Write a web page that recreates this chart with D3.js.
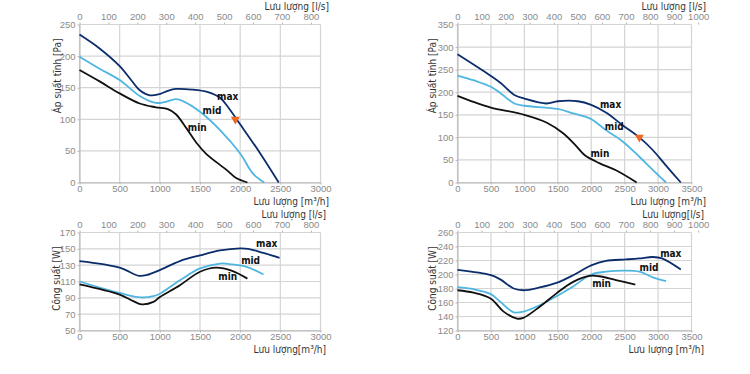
<!DOCTYPE html>
<html>
<head>
<meta charset="utf-8">
<script src="https://cdn.jsdelivr.net/npm/d3@7"></script>
<style>
  body { margin: 0; background: #fff; }
  svg { display: block; font-family: "Liberation Sans Narrow", "Arial Narrow", "DejaVu Sans Condensed", sans-serif; }
  .tick text { fill: #8a8a8a; font-size: 9.5px; }
  .tick line, .domain { stroke: #b5b5b5; }
  .grid line { stroke: #d4d4d4; stroke-width: 1.2; }
  .title { fill: #333; font-size: 10px; }
  .lbl { fill: #111; font-size: 10px; font-weight: bold; }
</style>
</head>
<body>
<svg id="chart" width="750" height="374"></svg>
<script>
// ---- data (flow m3/h, value) ----
var pressTicksA = [0, 50, 100, 150, 200, 250];
var pressTicksB = [0, 50, 100, 150, 200, 250, 300, 350];
var powerTicksA = [50, 70, 90, 110, 130, 150, 170];
var powerTicksB = [120, 140, 160, 180, 200, 220, 240, 260];
var flowTicksA = [0, 500, 1000, 1500, 2000, 2500, 3000];
var flowTicksB = [0, 500, 1000, 1500, 2000, 2500, 3000, 3500];
var lsTicksA = [0, 100, 200, 300, 400, 500, 600, 700, 800];
var lsTicksB = [0, 100, 200, 300, 400, 500, 600, 700, 800, 900, 1000];

var p1Max = [[0,234],[250,212],[500,184],[650,161],[750,146],[875,138],[1000,140],[1100,145],[1200,148],[1400,147],[1600,143],[1750,134],[1850,119],[2000,92],[2250,46],[2480,0]];
var p1Mid = [[0,199],[250,180],[500,162],[750,137],[950,126],[1050,127],[1200,132],[1300,128],[1500,112],[1750,83],[2000,46],[2160,14],[2300,0]];
var p1Min = [[0,178],[250,160],[500,141],[750,125],[950,119],[1100,116],[1200,108],[1330,86],[1460,62],[1580,45],[1830,20],[1950,7],[2090,0]];

var p2Max = [[0,284],[500,236],[650,220],[850,194],[1000,186],[1330,175],[1500,180],[1800,180],[2000,172],[2220,155],[2470,127],[2720,100],[2920,72],[3110,39],[3340,0]];
var p2Mid = [[0,237],[250,226],[500,212],[650,197],[850,175],[1000,170],[1500,163],[1730,153],[1980,142],[2220,116],[2470,91],[2720,57],[2920,28],[3120,0]];
var p2Min = [[0,192],[250,178],[500,166],[1000,150],[1330,133],[1580,109],[1780,80],[1900,61],[2120,43],[2370,27],[2680,0]];

var p3Max = [[0,135],[500,127],[740,117],[840,118],[1000,124],[1250,135],[1500,142],[1750,148],[2000,150.5],[2100,150],[2290,145],[2490,139]];
var p3Mid = [[0,110],[500,96],[760,90.5],[920,92],[1000,95],[1250,111.5],[1500,126],[1750,132],[1900,131],[2080,128],[2290,118.5]];
var p3Min = [[0,106.5],[500,94],[670,86],[775,82],[920,85],[1000,91],[1250,105.5],[1500,122],[1700,127],[1900,123],[2090,113.5]];

var p4Max = [[0,206.5],[500,199],[640,193],[840,180],[985,177.5],[1230,181.5],[1480,188],[1730,199],[2000,213],[2220,219.5],[2520,221.5],[2720,223],[2920,225],[3060,223],[3340,207]];
var p4Mid = [[0,182],[240,179],[500,172],[640,161],[840,146],[985,147],[1230,156],[1480,169],[1730,183],[2000,200],[2220,204],[2520,205.5],[2720,204],[2920,196],[3120,190.5]];
var p4Min = [[0,177.5],[240,174],[500,165.5],[690,147],[890,137],[985,138],[1230,154],[1480,173],[1730,189.5],[1980,198],[2120,197.5],[2370,192],[2660,185.5]];

var labels1 = [["max",1845,135],["mid",1650,113],["min",1465,87]];
var labels2 = [["max",2290,172],["mid",2345,124],["min",2130,63]];
var labels3 = [["max",2330,156],["mid",2130,135],["min",1845,115]];
var labels4 = [["max",3190,229],["mid",2865,209],["min",2155,186]];

var marker1 = [1940, 100];
var marker2 = [2720, 100];

var colors = { max: "#0b2d6b", mid: "#4fb6e2", min: "#111111" };

var svg = d3.select("#chart");
var fmt = d3.format("d");

function panel(o) {
  var g = svg.append("g");
  var x = d3.scaleLinear().domain([0, o.flowMax]).range([o.x0, o.x1]);
  var xs = d3.scaleLinear().domain([0, o.flowMax / 3.6]).range([o.x0, o.x1]);
  var y = d3.scaleLinear().domain(o.yDom).range([o.y1, o.y0]);

  var grid = g.append("g").attr("class", "grid");
  grid.selectAll(".v").data(o.flowTicks).enter().append("line")
    .attr("x1", d => x(d)).attr("x2", d => x(d))
    .attr("y1", o.y0).attr("y2", o.y1);
  grid.selectAll(".h").data(o.yTicks).enter().append("line")
    .attr("x1", o.x0).attr("x2", o.x1)
    .attr("y1", d => y(d)).attr("y2", d => y(d));

  g.append("g").attr("transform", "translate(0," + o.y1 + ")")
    .call(d3.axisBottom(x).tickValues(o.flowTicks).tickFormat(fmt).tickSize(2).tickPadding(1).tickSizeOuter(0));
  g.append("g").attr("transform", "translate(0," + o.y0 + ")")
    .call(d3.axisTop(xs).tickValues(o.lsTicks).tickFormat(fmt).tickSize(2).tickPadding(3).tickSizeOuter(0))
    .call(a => a.select(".domain").remove());
  g.append("g").attr("transform", "translate(" + o.x0 + ",0)")
    .call(d3.axisLeft(y).tickValues(o.yTicks).tickFormat(fmt).tickSize(2).tickPadding(2).tickSizeOuter(0));

  var line = d3.line().x(d => x(d[0])).y(d => y(d[1])).curve(d3.curveCatmullRom.alpha(0.5));
  [["max", o.max], ["mid", o.mid], ["min", o.min]].forEach(function (s) {
    g.append("path").attr("d", line(s[1])).attr("fill", "none")
      .attr("stroke", colors[s[0]]).attr("stroke-width", 1.8);
  });

  g.selectAll(".lbl").data(o.labels).enter().append("text").attr("class", "lbl")
    .attr("x", d => x(d[1])).attr("y", d => y(d[2]))
    .attr("text-anchor", "middle").attr("dominant-baseline", "middle")
    .text(d => d[0]);

  if (o.marker) {
    g.append("path")
      .attr("d", d3.symbol().type(d3.symbolTriangle).size(34))
      .attr("transform", "translate(" + x(o.marker[0]) + "," + y(o.marker[1]) + ") rotate(180)")
      .attr("fill", "#f0651f");
  }

  g.append("text").attr("class", "title").attr("text-anchor", "end")
    .attr("x", o.titleRight).attr("y", o.y0 - 15).text(o.topTitle);
  g.append("text").attr("class", "title").attr("text-anchor", "end")
    .attr("x", o.titleRight).attr("y", o.y1 + 22).text(o.bottomTitle);
  g.append("text").attr("class", "title").attr("text-anchor", "end")
    .attr("transform", "translate(" + o.yTitleX + "," + (o.y0 + 14) + ") rotate(-90)")
    .text(o.yTitle);
}

panel({ x0: 79.5, x1: 320.5, y0: 24.5, y1: 182.5, flowMax: 3000, flowTicks: flowTicksA, lsTicks: lsTicksA,
  yDom: [0, 250], yTicks: pressTicksA, max: p1Max, mid: p1Mid, min: p1Min, labels: labels1, marker: marker1,
  topTitle: "Lưu lượng [l/s]", bottomTitle: "Lưu lượng [m³/h]", yTitle: "Áp suất tĩnh [Pa]", titleRight: 329, yTitleX: 61 });

panel({ x0: 457.5, x1: 691.5, y0: 24.5, y1: 182.5, flowMax: 3500, flowTicks: flowTicksB, lsTicks: lsTicksB,
  yDom: [0, 350], yTicks: pressTicksB, max: p2Max, mid: p2Mid, min: p2Min, labels: labels2, marker: marker2,
  topTitle: "Lưu lượng [l/s]", bottomTitle: "Lưu lượng [m³/h]", yTitle: "Áp suất tĩnh [Pa]", titleRight: 706, yTitleX: 436 });

panel({ x0: 79.5, x1: 320.5, y0: 232.5, y1: 330.5, flowMax: 3000, flowTicks: flowTicksA, lsTicks: lsTicksA,
  yDom: [50, 170], yTicks: powerTicksA, max: p3Max, mid: p3Mid, min: p3Min, labels: labels3,
  topTitle: "Lưu lượng [l/s]", bottomTitle: "Lưu lượng[m³/h]", yTitle: "Công suất [W]", titleRight: 326, yTitleX: 60 });

panel({ x0: 457.5, x1: 691.5, y0: 232.5, y1: 330.5, flowMax: 3500, flowTicks: flowTicksB, lsTicks: lsTicksB,
  yDom: [120, 260], yTicks: powerTicksB, max: p4Max, mid: p4Mid, min: p4Min, labels: labels4,
  topTitle: "Lưu lượng[l/s]", bottomTitle: "Lưu lượng [m³/h]", yTitle: "Công suất [W]", titleRight: 704, yTitleX: 436 });
</script>
</body>
</html>
